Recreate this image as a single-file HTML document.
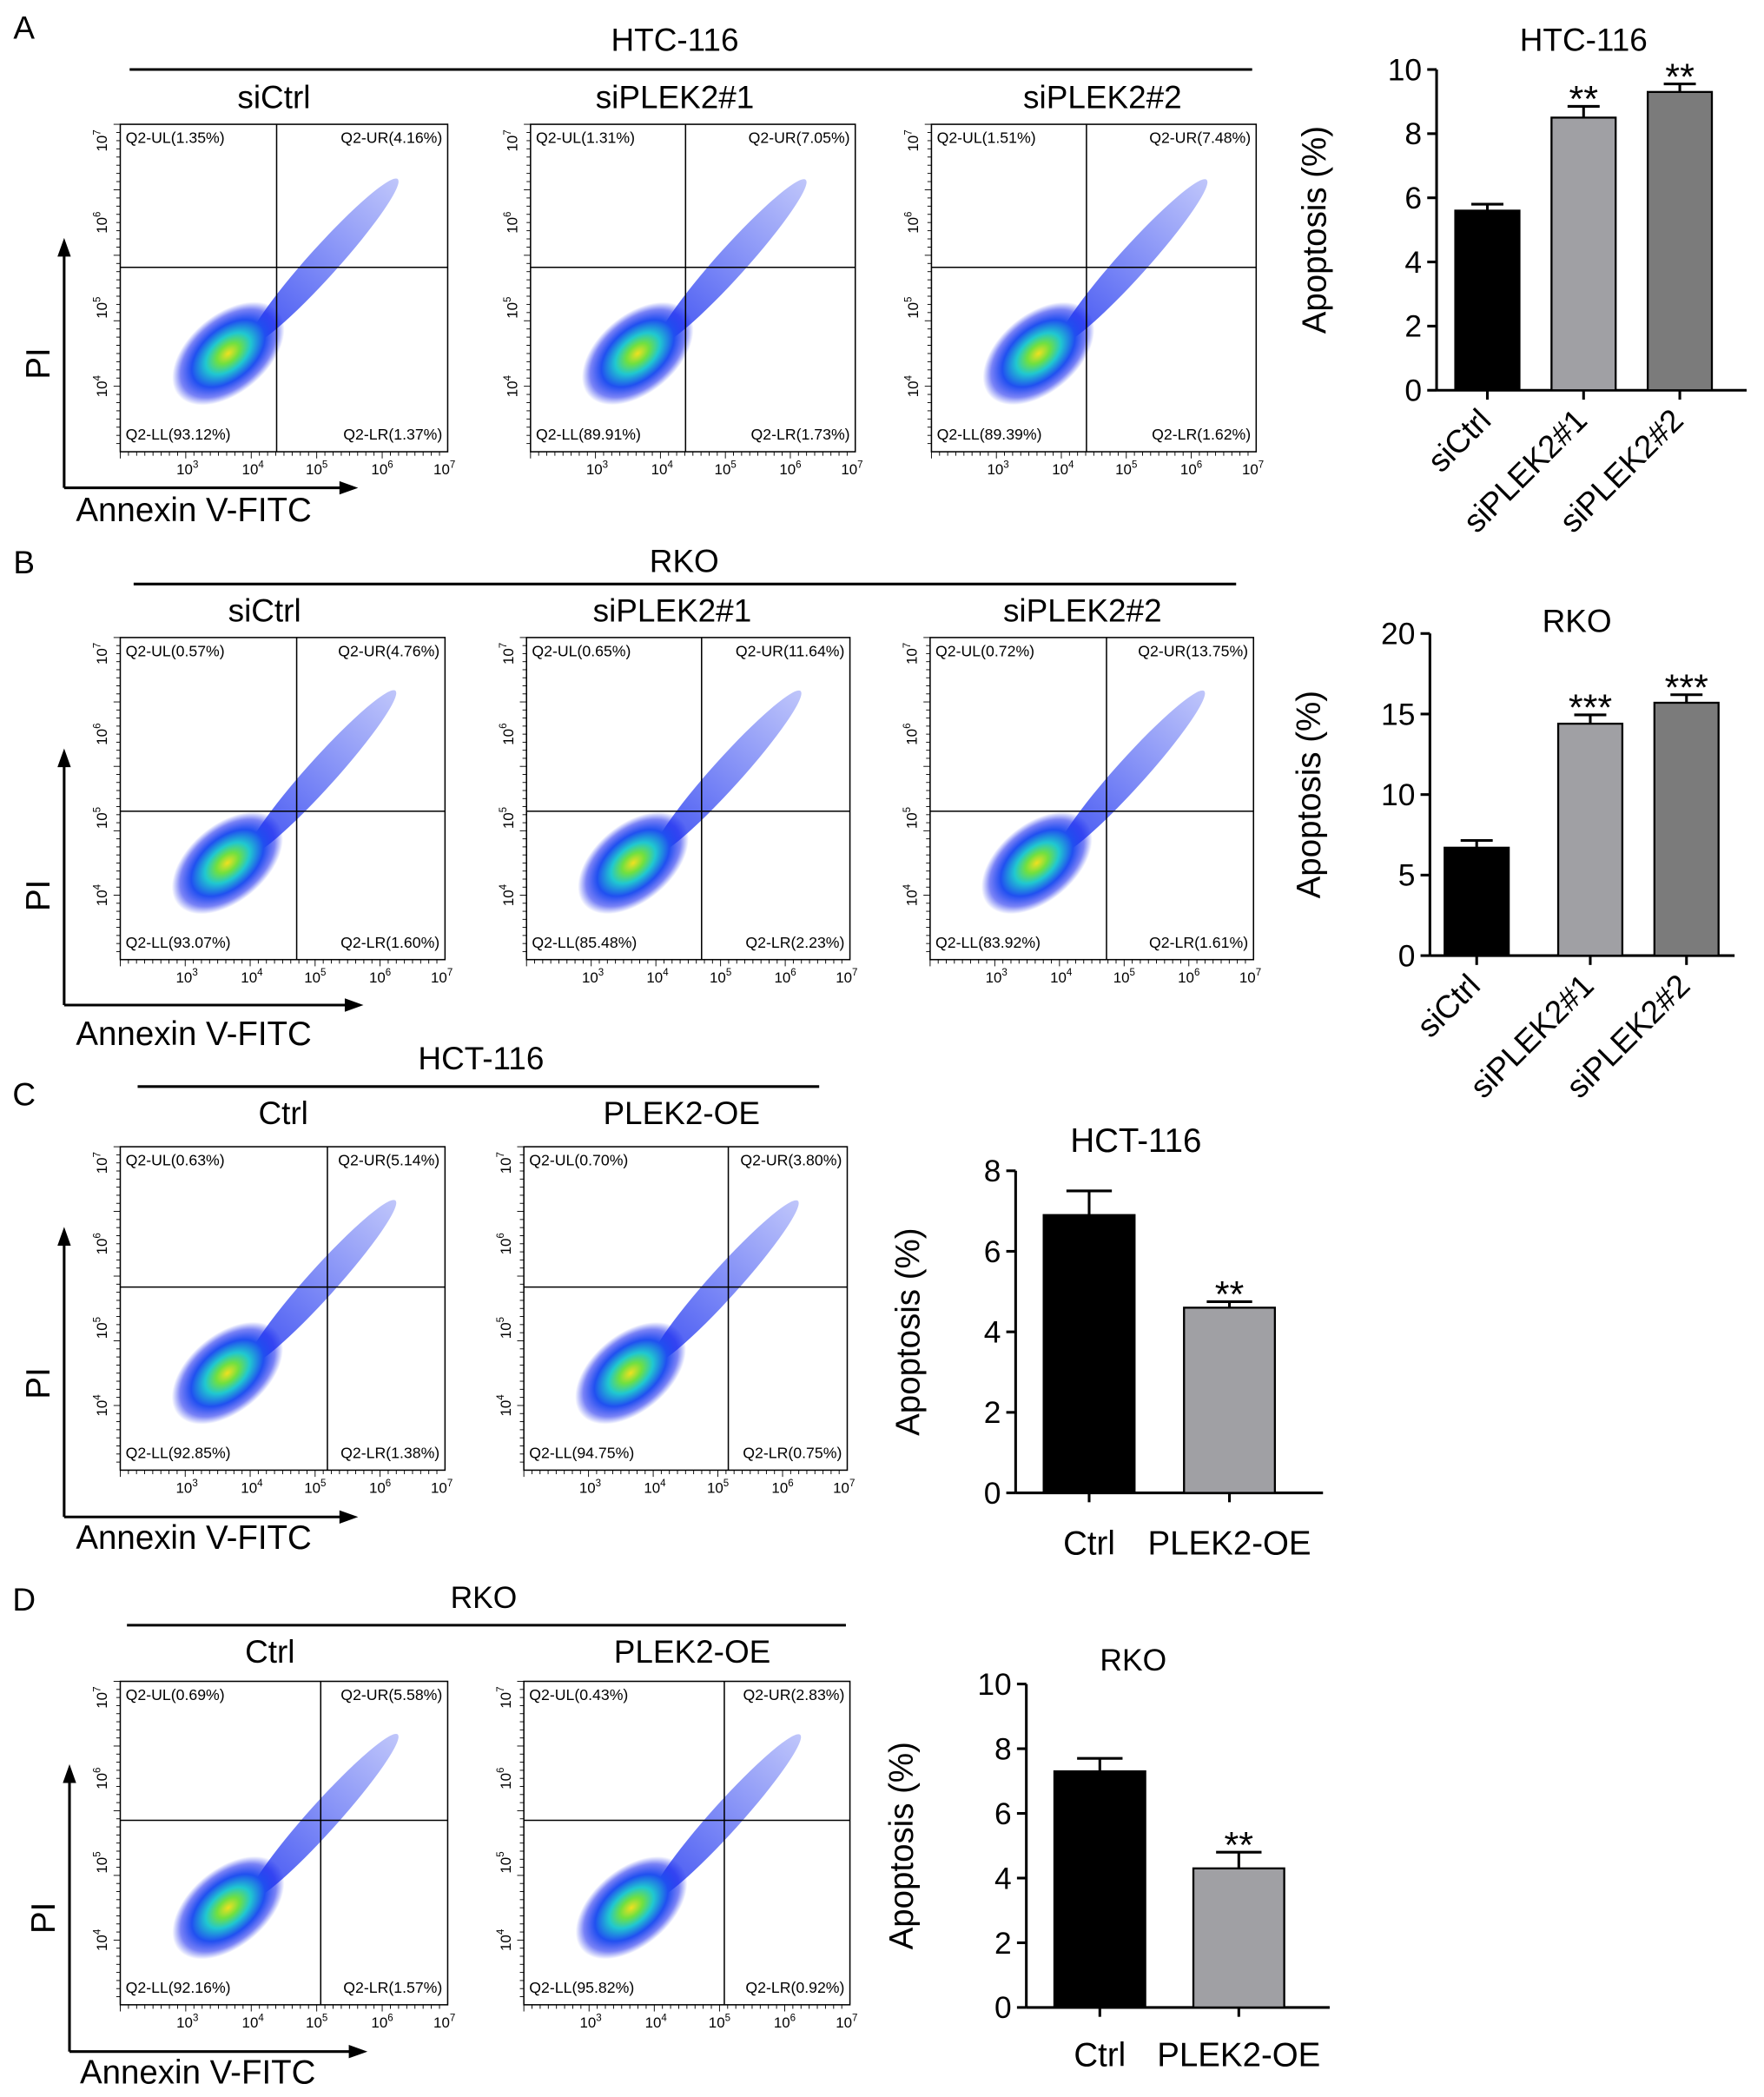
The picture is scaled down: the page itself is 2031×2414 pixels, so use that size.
<!DOCTYPE html>
<html><head><meta charset="utf-8">
<style>
html,body{margin:0;padding:0;background:#fff;}
svg{display:block;font-family:"Liberation Sans",Arial,sans-serif;}
</style></head>
<body>
<svg id="fig" width="2031" height="2414" viewBox="0 0 1320 1569" preserveAspectRatio="none" xmlns="http://www.w3.org/2000/svg">
<defs>
<radialGradient id="dens" cx="50%" cy="50%" r="50%">
<stop offset="0" stop-color="#f0e020"/>
<stop offset="0.2" stop-color="#70e040"/>
<stop offset="0.4" stop-color="#20c8d0"/>
<stop offset="0.65" stop-color="#2050f0"/>
<stop offset="0.85" stop-color="#2030f0" stop-opacity="0.6"/>
<stop offset="1" stop-color="#2030f0" stop-opacity="0"/>
</radialGradient>
<linearGradient id="band" x1="0" y1="0" x2="1" y2="0">
<stop offset="0" stop-color="#1a30f0" stop-opacity="0.85"/>
<stop offset="1" stop-color="#2a40f0" stop-opacity="0.3"/>
</linearGradient>
</defs>
</svg>
<script>
// ---- bar chart data ----
const catsA = ["siCtrl","siPLEK2#1","siPLEK2#2"];
const valsA = [5.6, 8.5, 9.3];
const errA = [0.2, 0.35, 0.25];
const sigA = ["", "**", "**"];
const ticksA = [0,2,4,6,8,10];

const catsB = ["siCtrl","siPLEK2#1","siPLEK2#2"];
const valsB = [6.7, 14.4, 15.7];
const errB = [0.45, 0.55, 0.5];
const sigB = ["", "***", "***"];
const ticksB = [0,5,10,15,20];

const catsC = ["Ctrl","PLEK2-OE"];
const valsC = [6.9, 4.6];
const errC = [0.6, 0.15];
const sigC = ["", "**"];
const ticksC = [0,2,4,6,8];

const catsD = ["Ctrl","PLEK2-OE"];
const valsD = [7.3, 4.3];
const errD = [0.4, 0.5];
const sigD = ["", "**"];
const ticksD = [0,2,4,6,8,10];

const svg = document.getElementById('fig');
const NS = "http://www.w3.org/2000/svg";
function mk(tag, attrs, parent, text){
  const e = document.createElementNS(NS, tag);
  for (const k in attrs) e.setAttribute(k, attrs[k]);
  if (text !== undefined) e.textContent = text;
  (parent||svg).appendChild(e);
  return e;
}
function txt(x,y,s,size,name,extra){
  const a = {x:x,y:y,'font-size':size,'text-anchor':'middle',fill:'#000'};
  if (extra) for (const k in extra) a[k]=extra[k];
  const t = mk('text',a,svg,s);
  
  
  return t;
}

function flow(x0,y0,x1,y1,vx,hy,q,name){
  const g = mk('g',{});
  
  
  const cx = x0+(x1-x0)*0.33, cy = y0+(y1-y0)*0.7;
  const bx = (x0+x1)/2+ (x1-x0)*0.12, by = (y0+y1)/2-(y1-y0)*0.08;
  mk('ellipse',{cx:bx,cy:by,rx:(x1-x0)*0.34,ry:(y1-y0)*0.045,fill:'url(#band)',transform:`rotate(-48 ${bx} ${by})`},g);
  mk('ellipse',{cx:cx,cy:cy,rx:(x1-x0)*0.2,ry:(y1-y0)*0.12,fill:'url(#dens)',transform:`rotate(-40 ${cx} ${cy})`},g);
  mk('rect',{x:x0,y:y0,width:x1-x0,height:y1-y0,fill:'none',stroke:'#000','stroke-width':1},g);
  mk('line',{x1:vx,y1:y0,x2:vx,y2:y1,stroke:'#000','stroke-width':1},g);
  mk('line',{x1:x0,y1:hy,x2:x1,y2:hy,stroke:'#000','stroke-width':1},g);
  const fs=11.5;
  mk('text',{x:x0+4,y:y0+14,'font-size':fs},g,`Q2-UL(${q[0]}%)`);
  mk('text',{x:x1-4,y:y0+14,'font-size':fs,'text-anchor':'end'},g,`Q2-UR(${q[1]}%)`);
  mk('text',{x:x0+4,y:y1-9,'font-size':fs},g,`Q2-LL(${q[2]}%)`);
  mk('text',{x:x1-4,y:y1-9,'font-size':fs,'text-anchor':'end'},g,`Q2-LR(${q[3]}%)`);
  const w=x1-x0, h=y1-y0;
  const xs=[0.205,0.405,0.6,0.8,0.99];
  const ex=[3,4,5,6,7];
  for(let i=0;i<5;i++){
    const tx=x0+w*xs[i];
    const t=mk('text',{x:tx,y:y1+17,'font-size':11,'text-anchor':'middle'},g,'10');
    mk('tspan',{dy:-5,'font-size':7.5},t,String(ex[i]));
  }
  for(let i=0;i<40;i++){mk('line',{x1:x0+w*i/40,y1:y1,x2:x0+w*i/40,y2:y1+(i%8==0?5:3),stroke:'#000','stroke-width':0.6},g);}
  const ys=[0.05,0.3,0.56,0.8];
  const ey=[7,6,5,4];
  for(let i=0;i<4;i++){
    const ty=y0+h*ys[i];
    const t=mk('text',{x:0,y:0,'font-size':11,'text-anchor':'middle',transform:`translate(${x0-10},${ty}) rotate(-90)`},g,'10');
    mk('tspan',{dy:-5,'font-size':7.5},t,String(ey[i]));
  }
  for(let i=0;i<40;i++){mk('line',{x1:x0,y1:y0+h*i/40,x2:x0-(i%8==0?5:3),y2:y0+h*i/40,stroke:'#000','stroke-width':0.6},g);}
}
function arrows(ax,ay,topY,rightX,piY,annX,annY){
  const g=mk('g',{});
  
  
  mk('line',{x1:ax,y1:ay,x2:ax,y2:topY+12,stroke:'#000','stroke-width':2},g);
  mk('polygon',{points:`${ax-5},${topY+14} ${ax+5},${topY+14} ${ax},${topY}`,fill:'#000'},g);
  mk('line',{x1:ax,y1:ay,x2:rightX-12,y2:ay,stroke:'#000','stroke-width':2},g);
  mk('polygon',{points:`${rightX-14},${ay-5} ${rightX-14},${ay+5} ${rightX},${ay}`,fill:'#000'},g);
  txt(0,0,'PI',25,'pi-axis-label',{transform:`translate(${ax-11},${piY}) rotate(-90)`});
  txt(annX,annY,'Annexin V-FITC',25,'annexin-axis-label');
}

function bars(cfg){
  const {ax,yTop,yBot,xEnd,max,ticks,cats,vals,errs,sigs,centers,bw,colors,title,titleX,titleY,titleSize,ylabX,rot,labY,name}=cfg;
  const g=mk('g',{});
  
  
  const Y=v=>yBot-(v/max)*(yBot-yTop);
  mk('line',{x1:ax,y1:yTop,x2:ax,y2:yBot,stroke:'#000','stroke-width':2},g);
  mk('line',{x1:ax,y1:yBot,x2:xEnd,y2:yBot,stroke:'#000','stroke-width':2},g);
  ticks.forEach(t=>{
    mk('line',{x1:ax-7,y1:Y(t),x2:ax,y2:Y(t),stroke:'#000','stroke-width':2},g);
    mk('text',{x:ax-11,y:Y(t)+8,'font-size':23,'text-anchor':'end'},g,String(t));
  });
  cats.forEach((c,i)=>{
    const cx=centers[i];
    const top=Y(vals[i]);
    const r=mk('rect',{x:cx-bw/2,y:top,width:bw,height:yBot-top,fill:colors[i],stroke:'#000','stroke-width':1.5},g);
    
    
    const et=Y(vals[i]+errs[i]);
    mk('line',{x1:cx,y1:top,x2:cx,y2:et,stroke:'#000','stroke-width':2},g);
    mk('line',{x1:cx-bw*0.25,y1:et,x2:cx+bw*0.25,y2:et,stroke:'#000','stroke-width':2},g);
    mk('line',{x1:cx,y1:yBot,x2:cx,y2:yBot+7,stroke:'#000','stroke-width':2},g);
    if(sigs[i]) mk('text',{x:cx,y:et+4,'font-size':28,'text-anchor':'middle'},g,sigs[i]);
    if(rot){
      mk('text',{x:0,y:0,'font-size':24,'text-anchor':'end',transform:`translate(${cx+4},${yBot+24}) rotate(-45)`},g,c);
    } else {
      mk('text',{x:cx,y:labY,'font-size':25,'text-anchor':'middle'},g,c);
    }
  });
  mk('text',{x:titleX,y:titleY,'font-size':titleSize,'text-anchor':'middle'},g,title);
  mk('text',{x:0,y:0,'font-size':25,'text-anchor':'middle',transform:`translate(${ylabX},${(yTop+yBot)/2}) rotate(-90)`},g,'Apoptosis (%)');
}

// ---------- Panel A ----------
txt(18,29,'A',24,'panel-a-letter');
txt(505,38,'HTC-116',24,'panel-a-title');
mk('line',{x1:97,y1:52,x2:937,y2:52,stroke:'#000','stroke-width':2});
txt(205,81,'siCtrl',24,'subtitle-sictrl');
txt(505,81,'siPLEK2#1',24,'subtitle-siplek2-1');
txt(825,81,'siPLEK2#2',24,'subtitle-siplek2-2');
flow(90,93,335,338,207,200,['1.35','4.16','93.12','1.37'],'flow-a-sictrl');
flow(397,93,640,338,513,200,['1.31','7.05','89.91','1.73'],'flow-a-siplek2-1');
flow(697,93,940,338,813,200,['1.51','7.48','89.39','1.62'],'flow-a-siplek2-2');
arrows(48,365,178,268,272,145,390);
bars({ax:1075,yTop:52,yBot:292,xEnd:1307,max:10,ticks:ticksA,cats:catsA,vals:valsA,errs:errA,sigs:sigA,
  centers:[1113,1185,1257],bw:48,colors:['#000','#a0a0a4','#7b7b7b'],title:'HTC-116',titleX:1185,titleY:38,titleSize:24,ylabX:992,rot:true,name:'bar-chart-a'});

// ---------- Panel B ----------
txt(18,429,'B',24,'panel-b-letter');
txt(512,428,'RKO',24,'panel-b-title');
mk('line',{x1:100,y1:437,x2:925,y2:437,stroke:'#000','stroke-width':2});
txt(198,465,'siCtrl',24,'subtitle-b-sictrl');
txt(503,465,'siPLEK2#1',24,'subtitle-b-siplek2-1');
txt(810,465,'siPLEK2#2',24,'subtitle-b-siplek2-2');
flow(90,477,333,718,222,607,['0.57','4.76','93.07','1.60'],'flow-b-sictrl');
flow(394,477,636,718,525,607,['0.65','11.64','85.48','2.23'],'flow-b-siplek2-1');
flow(696,477,938,718,828,607,['0.72','13.75','83.92','1.61'],'flow-b-siplek2-2');
arrows(48,752,560,272,670,145,782);
bars({ax:1070,yTop:474,yBot:715,xEnd:1298,max:20,ticks:ticksB,cats:catsB,vals:valsB,errs:errB,sigs:sigB,
  centers:[1105,1190,1262],bw:48,colors:['#000','#a0a0a4','#7b7b7b'],title:'RKO',titleX:1180,titleY:473,titleSize:24,ylabX:988,rot:true,name:'bar-chart-b'});

// ---------- Panel C ----------
txt(18,827,'C',24,'panel-c-letter');
txt(360,800,'HCT-116',24,'panel-c-title');
mk('line',{x1:103,y1:813,x2:613,y2:813,stroke:'#000','stroke-width':2});
txt(212,841,'Ctrl',24,'subtitle-c-ctrl');
txt(510,841,'PLEK2-OE',24,'subtitle-c-plek2-oe');
flow(90,858,333,1100,245,963,['0.63','5.14','92.85','1.38'],'flow-c-ctrl');
flow(392,858,634,1100,545,963,['0.70','3.80','94.75','0.75'],'flow-c-plek2-oe');
arrows(48,1135,918,268,1035,145,1159);
bars({ax:760,yTop:876,yBot:1117,xEnd:990,max:8,ticks:ticksC,cats:catsC,vals:valsC,errs:errC,sigs:sigC,
  centers:[815,920],bw:68,colors:['#000','#a0a0a4'],title:'HCT-116',titleX:850,titleY:862,titleSize:25,ylabX:688,rot:false,labY:1163,name:'bar-chart-c'});

// ---------- Panel D ----------
txt(18,1205,'D',24,'panel-d-letter');
txt(362,1203,'RKO',23,'panel-d-title');
mk('line',{x1:95,y1:1216,x2:633,y2:1216,stroke:'#000','stroke-width':2});
txt(202,1244,'Ctrl',24,'subtitle-d-ctrl');
txt(518,1244,'PLEK2-OE',24,'subtitle-d-plek2-oe');
flow(90,1258,335,1500,240,1362,['0.69','5.58','92.16','1.57'],'flow-d-ctrl');
flow(392,1258,636,1500,542,1362,['0.43','2.83','95.82','0.92'],'flow-d-plek2-oe');
arrows(52,1535,1320,275,1435,148,1559);
bars({ax:768,yTop:1260,yBot:1502,xEnd:995,max:10,ticks:ticksD,cats:catsD,vals:valsD,errs:errD,sigs:sigD,
  centers:[823,927],bw:68,colors:['#000','#a0a0a4'],title:'RKO',titleX:848,titleY:1250,titleSize:23,ylabX:683,rot:false,labY:1546,name:'bar-chart-d'});
</script>
</body></html>
